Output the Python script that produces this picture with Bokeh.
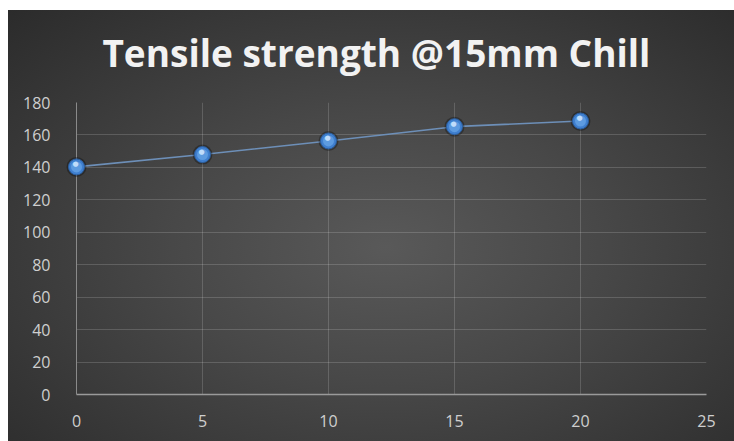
from bokeh.plotting import figure
from bokeh.models import ColumnDataSource, FixedTicker, Range1d
from bokeh.core.properties import value
from bokeh.embed import file_html
from bokeh.resources import INLINE

# Tensile strength measured against position (chill 15 mm)
positions = [0, 5, 10, 15, 20]
strength = [140.3, 147.9, 156.3, 165.1, 168.6]
x_ticks = [0, 5, 10, 15, 20, 25]
y_ticks = [0, 20, 40, 60, 80, 100, 120, 140, 160, 180]
title_text = "Tensile strength @15mm Chill"

src = ColumnDataSource(data=dict(x=positions, y=strength, dot=["\u25cf"] * len(positions)))

p = figure(
    width=726, height=431,
    output_backend="svg", toolbar_location=None,
    x_range=Range1d(0, 25), y_range=Range1d(0, 180),
    min_border_left=68, min_border_right=28,
    min_border_top=92, min_border_bottom=47,
)

# dark radial backdrop shows through transparent canvas fills
p.background_fill_alpha = 0
p.border_fill_alpha = 0
p.outline_line_color = None
p.styles = {
    "margin-left": "8px",
    "margin-top": "10px",
    "background": "radial-gradient(ellipse farthest-corner at 52% 55%, #595959 0%, #484848 40%, #2b2b2b 100%)",
}

# chart title, drawn above the frame (overlay level is not clipped)
p.text(x=[11.9], y=[180], text=[title_text], y_offset=-50,
       text_align="center", text_baseline="alphabetic",
       text_color="#f2f2f2", text_font=value("Open Sans"), text_font_style="bold",
       text_font_size="37px", level="overlay")

# axes
for ax in (p.xaxis[0], p.yaxis[0]):
    ax.major_label_text_font = "Open Sans"
    ax.major_label_text_font_size = "16px"
    ax.major_label_text_color = "#cfcfcf"
    ax.major_tick_line_color = None
    ax.minor_tick_line_color = None

p.xaxis.ticker = FixedTicker(ticks=x_ticks)
p.yaxis.ticker = FixedTicker(ticks=y_ticks)
p.xaxis.axis_line_color = "#9a9a9a"
p.xaxis.axis_line_width = 1.5
p.xaxis.major_label_standoff = 14
p.yaxis.axis_line_color = "#8a8a8a"
p.yaxis.major_label_standoff = 20

p.xgrid.ticker = FixedTicker(ticks=x_ticks)
p.ygrid.ticker = FixedTicker(ticks=y_ticks)
p.grid.grid_line_color = "#ffffff"
p.grid.grid_line_alpha = 0.16

# series line
p.line("x", "y", source=src, line_color="#6d8fb8", line_width=1.6)

# spherical markers: halo, body, highlight (drawn above the frame clip)
p.scatter("x", "y", source=src, size=20, fill_color="#000000", fill_alpha=0.3, line_color=None,
          level="overlay")
p.scatter("x", "y", source=src, size=16, fill_color="#3f7fcf", line_color="#2b5e9e", line_width=1,
          level="overlay")
p.scatter("x", "y", source=src, size=11, fill_color="#5d9be0", line_color=None, level="overlay")
p.text("x", "y", text="dot", source=src, text_font=value("DejaVu Sans"), text_font_size="7px",
       text_color="#cfe6ff", text_alpha=0.9, text_align="center", text_baseline="middle",
       y_offset=-3, x_offset=-1, level="overlay")

open("out.html", "w").write(file_html(p, INLINE))
